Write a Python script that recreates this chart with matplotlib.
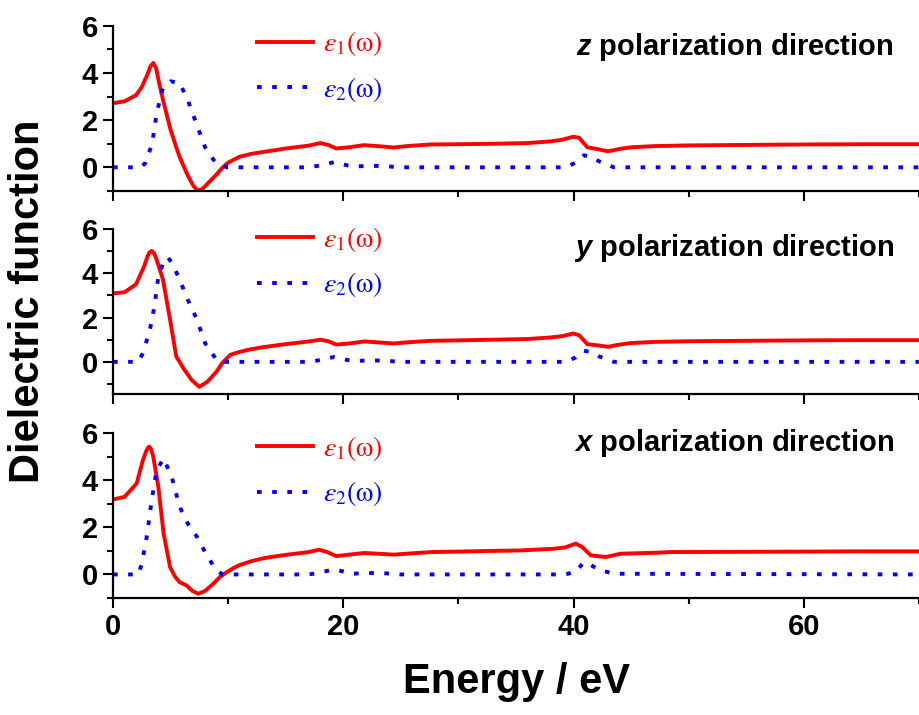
import sys # Required for system functions

import matplotlib as mplib
mplib.use("Agg")
from matplotlib import pyplot as plt
from matplotlib.font_manager import FontProperties
from matplotlib.ticker import MultipleLocator

# z polarization direction (top panel)
zEps1Energy = [0, 1, 2, 2.5, 3, 3.25, 3.5, 3.75, 4, 4.35, 5, 5.5, 5.8, 6.5, 7, 7.4, 7.8, 8.5, 9, 9.5, 10, 11,
               12, 13, 14, 15, 16, 17, 18, 18.7, 19.4, 20.5, 21.8, 23, 24.4, 25.5, 27.6, 30, 33, 36, 38, 39,
               40, 40.5, 41.2, 42, 43, 44, 45, 47, 50, 55, 60, 65, 70]
zEps1 = [2.72, 2.8, 3.06, 3.4, 3.95, 4.28, 4.43, 4.2, 3.6, 2.85, 1.6, 0.85, 0.43, -0.35, -0.8, -1.0, -0.9, -0.55, -0.3, -0.02, 0.2, 0.45,
         0.57, 0.65, 0.72, 0.8, 0.86, 0.92, 1.03, 0.95, 0.8, 0.85, 0.94, 0.9, 0.84, 0.9, 0.97, 0.98, 1.0, 1.03, 1.1, 1.17,
         1.3, 1.25, 0.85, 0.78, 0.68, 0.78, 0.85, 0.9, 0.93, 0.95, 0.97, 0.98, 0.98]
zEps2Energy = [0, 2.4, 2.8, 3.4, 3.8, 4.35, 5.0, 5.8, 6.5, 7.4, 8.0, 8.9, 9.9, 17, 18, 19.2, 20.8, 22, 23.3, 25,
               39.3, 40.2, 40.9, 41.5, 42.2, 43.5, 70]
zEps2 = [0, 0, 0.17, 1.0, 2.3, 3.4, 3.65, 3.57, 2.85, 1.65, 0.85, 0.2, 0, 0, 0.08, 0.22, 0.03, 0.06, 0.06, 0,
         0, 0.2, 0.51, 0.45, 0.26, 0, 0]

# y polarization direction (middle panel)
yEps1Energy = [0, 1, 2, 2.7, 3.0, 3.15, 3.36, 3.6, 3.8, 4.35, 4.96, 5.5, 6.1, 6.8, 7.5, 8.2, 9.0, 9.5, 10.2, 11, 12, 13,
               14, 15, 16, 17, 18, 18.7, 19.4, 20.5, 21.8, 23, 24.4, 25.5, 27.6, 30, 33, 36, 38, 39, 40, 40.5,
               41.2, 42, 43, 44, 45, 47, 50, 55, 60, 65, 70]
yEps1 = [3.09, 3.14, 3.5, 4.3, 4.75, 4.93, 5.01, 4.88, 4.6, 3.7, 1.9, 0.24, -0.27, -0.8, -1.13, -0.9, -0.44, -0.05, 0.32, 0.45, 0.57, 0.66,
         0.73, 0.8, 0.86, 0.92, 1.0, 0.93, 0.78, 0.83, 0.92, 0.88, 0.83, 0.88, 0.95, 0.97, 1.0, 1.03, 1.1, 1.16, 1.28, 1.2,
         0.8, 0.75, 0.68, 0.78, 0.85, 0.9, 0.93, 0.95, 0.97, 0.98, 0.98]
yEps2Energy = [0, 2.2, 2.6, 3.2, 3.6, 3.94, 4.5, 4.8, 5.2, 5.8, 6.5, 7.3, 8.0, 9.0, 9.6, 17, 18, 19.2, 20.8, 22,
               23.3, 25, 39.3, 40.2, 40.9, 41.5, 42.2, 43.5, 70]
yEps2 = [0, 0, 0.39, 1.44, 2.5, 3.84, 4.67, 4.7, 4.4, 3.7, 2.8, 1.9, 0.84, 0.09, 0, 0, 0.08, 0.22, 0.03, 0.06,
         0.06, 0, 0, 0.2, 0.5, 0.45, 0.25, 0, 0]

# x polarization direction (bottom panel)
xEps1Energy = [0, 1, 2.06, 2.6, 2.9, 3.05, 3.16, 3.3, 3.5, 3.94, 4.4, 4.96, 5.4, 5.8, 6.4, 6.9, 7.4, 8.0, 8.7, 9.3, 9.9, 10.5,
               11, 12, 13, 14, 15, 16, 17, 17.9, 18.6, 19.4, 20.5, 21.8, 23, 24.4, 25.5, 27.6, 30, 33, 35.4, 38.3,
               39.3, 40.2, 40.8, 41.5, 42.8, 44.1, 45.5, 47, 48.5, 55, 60, 65, 70]
xEps1 = [3.18, 3.29, 3.86, 4.85, 5.25, 5.38, 5.42, 5.32, 5.0, 3.72, 1.73, 0.31, -0.1, -0.33, -0.47, -0.7, -0.82, -0.7, -0.4, -0.1, 0.1, 0.28,
         0.4, 0.56, 0.68, 0.76, 0.83, 0.89, 0.95, 1.05, 0.95, 0.78, 0.84, 0.91, 0.88, 0.84, 0.88, 0.95, 0.97, 1.0, 1.02, 1.09,
         1.15, 1.31, 1.15, 0.81, 0.74, 0.88, 0.9, 0.92, 0.95, 0.96, 0.97, 0.98, 0.98]
xEps2Energy = [0, 2.2, 2.5, 2.93, 3.36, 3.8, 4.4, 5.1, 5.8, 6.5, 7.3, 8.0, 8.87, 9.5, 17, 18, 19.2, 20.8, 22, 23.3,
               25, 39.3, 40.2, 40.9, 41.5, 42.2, 43.5, 70]
xEps2 = [0, 0, 0.45, 1.59, 3.15, 4.43, 4.92, 4.14, 2.86, 2.16, 1.59, 0.95, 0.24, 0, 0, 0.08, 0.22, 0.03, 0.06, 0.06,
         0, 0, 0.12, 0.52, 0.4, 0.2, 0.03, 0]

panelNames = ["z", "y", "x"]
xTickLabels = ["0", "20", "40", "60"]


def __main__():
    plt.rcParams["font.family"] = ["Liberation Sans", "DejaVu Sans"]
    plt.rcParams["font.weight"] = "normal" # keeps the stix legend text regular, bold is set per text
    plt.rcParams["mathtext.fontset"] = "custom"
    plt.rcParams["mathtext.it"] = "Liberation Sans:italic:bold"
    plt.rcParams["mathtext.rm"] = "Liberation Sans:bold"

    fig = plt.figure(figsize=(9.2, 7.15), dpi=100)

    panels = [
        (zEps1Energy, zEps1, zEps2Energy, zEps2, -1.0, 0.733, 0.752, 0.873),
        (yEps1Energy, yEps1, yEps2Energy, yEps2, -1.45, 0.449, 0.80, 0.885),
        (xEps1Energy, xEps1, xEps2Energy, xEps2, -1.0, 0.1636, 0.77, 0.94),
    ]
    legendFont = FontProperties(family="Liberation Serif", weight="normal", size=20, math_fontfamily="stix")

    for i, (e1x, e1y, e2x, e2y, yMin, axBottom, legY, textY) in enumerate(panels):
        ax = fig.add_axes([0.1228, axBottom, 0.876, 0.2308])
        ax.plot(e1x, e1y, color="#ff0000", linewidth=2.8, label=r"$\varepsilon_1\mathrm{(\omega)}$")
        ax.plot(e2x, e2y, color="#0000ff", linewidth=2.8, dashes=(1.2, 2.7), label=r"$\varepsilon_2\mathrm{(\omega)}$")

        ax.set_xlim(0, 70)
        ax.set_ylim(yMin, 6)
        ax.spines["top"].set_visible(False)
        ax.spines["right"].set_visible(False)
        ax.spines["left"].set_linewidth(1.6)
        ax.spines["bottom"].set_linewidth(1.6)
        ax.xaxis.set_major_locator(MultipleLocator(20))
        ax.xaxis.set_minor_locator(MultipleLocator(10))
        ax.yaxis.set_major_locator(MultipleLocator(2))
        ax.yaxis.set_minor_locator(MultipleLocator(1))
        ax.tick_params(which="major", direction="out", length=7, width=1.5, labelsize=21, pad=4)
        ax.tick_params(which="minor", direction="out", length=4, width=1.5)
        if i < 2:
            ax.tick_params(axis="x", labelbottom=False)
        else:
            ax.set_xticks([0, 20, 40, 60])
            ax.set_xticklabels(xTickLabels)
        for lab in ax.get_xticklabels() + ax.get_yticklabels():
            lab.set_fontweight("bold")

        ax.legend(loc="center left", bbox_to_anchor=(0.179, legY), frameon=False, prop=legendFont,
                  labelcolor="linecolor", handlelength=2.0, handletextpad=0.35, borderpad=0,
                  borderaxespad=0, labelspacing=0.6)
        ax.text(0.969, textY, "$" + panelNames[i] + "$ polarization direction", transform=ax.transAxes,
                ha="right", va="center", fontsize=21, fontweight="bold")

    fig.text(0.03, 0.578, "Dielectric function", rotation=90, ha="center", va="center",
             fontsize=30, fontweight="bold")
    fig.text(0.561, 0.031, "Energy / eV", ha="center", va="baseline", fontsize=30, fontweight="bold")

    fig.savefig("out.png", dpi=100)

if __name__ == "__main__":
    sys.exit(__main__())
